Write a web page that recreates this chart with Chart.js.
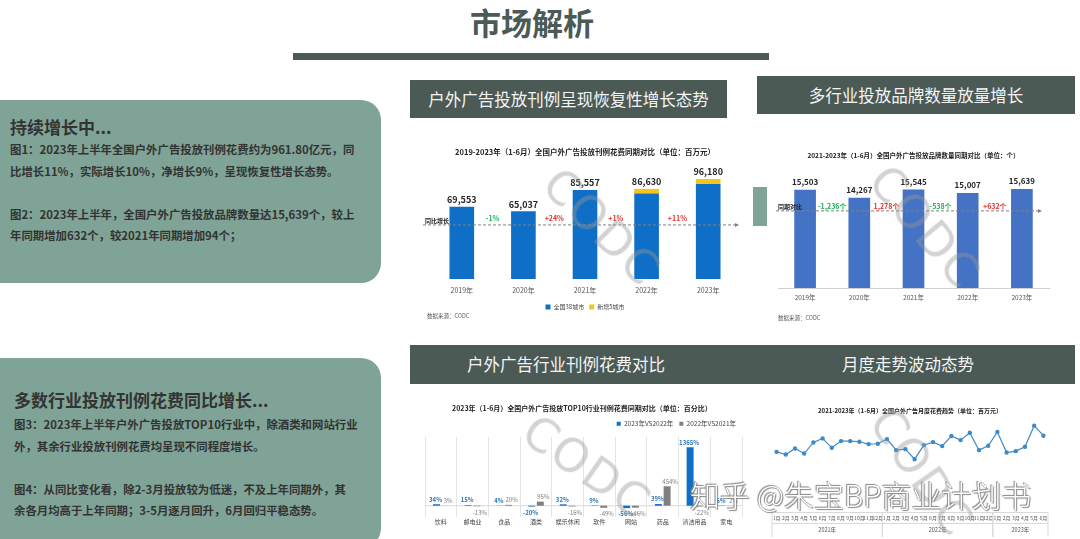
<!DOCTYPE html>
<html>
<head>
<meta charset="utf-8">
<script src="https://cdn.jsdelivr.net/npm/chart.js@4.4.0/dist/chart.umd.min.js"></script>
<style>
  body { margin: 0; width: 1080px; height: 539px; background: #fff; position: relative; overflow: hidden;
         font-family: "Noto Sans CJK SC", "Noto Sans", sans-serif; }
  .abs { position: absolute; }
  .panel { background: #7fa396; border-radius: 6px 20px 20px 6px; }
  .ptitle { position: absolute; font-size: 17px; line-height: 20px; font-weight: bold; color: #333; white-space: nowrap; }
  .pbody { position: absolute; font-size: 11.4px; line-height: 21.5px; font-weight: bold; color: #333; white-space: nowrap; }
  .head { background: #4b5a54; color: #f4f4f4; font-size: 16.5px; text-align: center; white-space: nowrap; }
  .box { position: absolute; }
  .src { position: absolute; font-size: 5.5px; color: #555; white-space: nowrap; }
  .ctitle { position: absolute; font-size: 7px; font-weight: bold; color: #222; white-space: nowrap; }
  .wm { position: absolute; font-family: "DejaVu Sans", sans-serif; font-size: 46px; color: rgba(150,150,150,0.42);
        letter-spacing: 2px; white-space: nowrap; transform-origin: center; }
  .zh { position: absolute; font-size: 30px; font-weight: 300; color: #fff; white-space: nowrap;
        text-shadow: 0 0 1px #666, 1px 1px 1px #888, -1px -1px 1px #888; }
</style>
</head>
<body>

<div class="abs" style="left:432px;top:2px;width:200px;text-align:center;font-size:31px;line-height:40px;font-weight:bold;color:#4b5a54;">市场解析</div>
<div class="abs" style="left:293px;top:53px;width:476px;height:7px;background:#4b5a54;"></div>

<div class="abs panel" style="left:-6px;top:100px;width:387px;height:183px;"></div>
<div class="ptitle" style="left:10px;top:117px;">持续增长中...</div>
<div class="pbody" style="left:10px;top:139px;">
图1：2023年上半年全国户外广告投放刊例花费约为961.80亿元，同<br>
比增长11%，实际增长10%，净增长9%，呈现恢复性增长态势。<br>
<br>
图2：2023年上半年，全国户外广告投放品牌数量达15,639个，较上<br>
年同期增加632个，较2021年同期增加94个；</div>

<div class="abs panel" style="left:-6px;top:358px;width:387px;height:190px;"></div>
<div class="ptitle" style="left:14px;top:390px;">多数行业投放刊例花费同比增长...</div>
<div class="pbody" style="left:14px;top:414px;">
图3：2023年上半年户外广告投放TOP10行业中，除酒类和网站行业<br>
外，其余行业投放刊例花费均呈现不同程度增长。<br>
<br>
图4：从同比变化看，除2-3月投放较为低迷，不及上年同期外，其<br>
余各月均高于上年同期；3-5月逐月回升，6月回归平稳态势。</div>

<div class="abs head" style="left:410px;top:80px;width:317px;height:38px;line-height:38px;">户外广告投放刊例呈现恢复性增长态势</div>
<div class="abs head" style="left:757px;top:76px;width:318px;height:38px;line-height:38px;">多行业投放品牌数量放量增长</div>
<div class="abs" style="left:753px;top:187px;width:14px;height:39px;background:#7fa396;"></div>
<div class="abs head" style="left:410px;top:345px;width:665px;height:39px;"></div>
<div class="abs" style="left:436px;top:345px;width:260px;line-height:39px;color:#f4f4f4;font-size:16.5px;text-align:center;white-space:nowrap;">户外广告行业刊例花费对比</div>
<div class="abs" style="left:808px;top:345px;width:200px;line-height:39px;color:#f4f4f4;font-size:16.5px;text-align:center;white-space:nowrap;">月度走势波动态势</div>

<div class="box" style="left:410px;top:140px;width:330px;height:180px;"><canvas id="spendChart"></canvas></div>
<div class="box" style="left:760px;top:140px;width:315px;height:180px;"><canvas id="brandChart"></canvas></div>
<div class="box" style="left:410px;top:398px;width:340px;height:141px;"><canvas id="industryChart"></canvas></div>
<div class="box" style="left:760px;top:400px;width:315px;height:139px;"><canvas id="monthChart"></canvas></div>

<div class="ctitle" style="left:452px;top:403px;">2023年（1-6月）全国户外广告投放TOP10行业刊例花费同期对比（单位：百分比）</div>
<div class="src" style="left:427px;top:312px;">数据来源：CODC</div>
<div class="src" style="left:778px;top:314px;">数据来源：CODC</div>

<div class="wm" style="left:530px;top:200px;transform:rotate(45deg);">CODC</div>
<div class="wm" style="left:853px;top:200px;transform:rotate(50deg);">CODC</div>
<div class="wm" style="left:515px;top:440px;transform:rotate(35deg);">CODC</div>
<div class="wm" style="left:850px;top:445px;transform:rotate(55deg);">CODC</div>
<div class="zh" style="left:690px;top:472px;">知乎 @朱宝BP商业计划书</div>

<script>
const barYears = ['2019年', '2020年', '2021年', '2022年', '2023年'];
const spend38 = [69553, 65037, 85557, 82130, 91380];
const spendNew5 = [0, 0, 0, 4500, 4800];
const spendGrowth = ['-1%', '+24%', '+1%', '+11%'];

const brandCount = [15503, 14267, 15545, 15007, 15639];
const brandDiff = ['-1,236个', '1,278个', '-538个', '+632个'];

const industries = ['饮料', '邮电业', '食品', '酒类', '娱乐休闲', '软件', '网站', '药品', '清洁用品', '家电'];
const yoy2023 = [34, 15, 4, -20, 32, 9, -56, 39, 1365, 6];
const yoy2022 = [3, -13, 20, 95, -16, -49, -46, 454, -22, 2];

const months = ['1月','2月','3月','4月','5月','6月','7月','8月','9月','10月','11月','12月',
                '1月','2月','3月','4月','5月','6月','7月','8月','9月','10月','11月','12月',
                '1月','2月','3月','4月','5月','6月'];
const monthYears = ['2021年', '2022年', '2023年'];
const monthSpend = [13400, 12780, 14190, 13010, 15610, 16560, 14350, 15930, 15930, 15770, 15220, 15300,
                    16400, 13800, 14040, 11680, 14980, 15690, 14750, 17110, 16160, 17890, 13800, 14820,
                    18050, 13250, 13570, 14590, 19550, 17190];

const FONT = '"Noto Sans CJK SC", "Noto Sans", sans-serif';
Chart.defaults.font.family = FONT;
Chart.defaults.animation = false;

// dashed comparison line with change notes between bars
function refLine(value, label, notes, opt) {
  return {
    id: 'refLine',
    afterDatasetsDraw(chart) {
      const { ctx, chartArea, scales: { x, y } } = chart;
      const py = y.getPixelForValue(value);
      const x0 = chartArea.left + opt.left, x1 = chartArea.right + opt.right;
      ctx.save();
      ctx.strokeStyle = '#808080';
      ctx.lineWidth = 1;
      ctx.setLineDash([3, 2]);
      ctx.beginPath();
      ctx.moveTo(x0, py);
      ctx.lineTo(x1 - 3, py);
      ctx.stroke();
      ctx.setLineDash([]);
      ctx.fillStyle = '#808080';
      ctx.beginPath();
      ctx.moveTo(x1 + 1, py);
      ctx.lineTo(x1 - 3, py - 2);
      ctx.lineTo(x1 - 3, py + 2);
      ctx.fill();
      ctx.font = 'bold 6px ' + FONT;
      ctx.fillStyle = '#222';
      ctx.textAlign = 'left';
      ctx.textBaseline = 'bottom';
      ctx.fillText(label, x0 + 2, py - 1);
      ctx.font = 'bold 7px ' + FONT;
      ctx.textAlign = 'center';
      ctx.textBaseline = 'middle';
      notes.forEach((t, i) => {
        const px = (x.getPixelForValue(i) + x.getPixelForValue(i + 1)) / 2;
        ctx.fillStyle = t.startsWith('-') ? '#1aae55' : '#e0312f';
        ctx.fillText(t, px, py - opt.noteUp);
      });
      ctx.restore();
    }
  };
}

function totalLabels(size, gap) {
  return {
    id: 'totals',
    afterDatasetsDraw(chart) {
      const { ctx } = chart;
      const sets = chart.data.datasets;
      const last = chart.getDatasetMeta(sets.length - 1);
      ctx.save();
      ctx.font = 'bold ' + size + 'px ' + FONT;
      ctx.fillStyle = '#262626';
      ctx.textAlign = 'center';
      ctx.textBaseline = 'middle';
      last.data.forEach((bar, i) => {
        const total = sets.reduce((s, d) => s + d.data[i], 0);
        ctx.fillText(total.toLocaleString('en-US'), bar.x, bar.y - gap);
      });
      ctx.restore();
    }
  };
}

// Chart 1: spend by year
new Chart(document.getElementById('spendChart'), {
  type: 'bar',
  data: {
    labels: barYears,
    datasets: [
      { label: '全国38城市', data: spend38, backgroundColor: '#0f6fc6', barPercentage: 0.8, categoryPercentage: 0.5 },
      { label: '新增5城市', data: spendNew5, backgroundColor: '#f5c518', barPercentage: 0.8, categoryPercentage: 0.5 }
    ]
  },
  options: {
    responsive: true,
    maintainAspectRatio: false,
    layout: { padding: { left: 21, right: 1, top: 6, bottom: 0 } },
    plugins: {
      title: {
        display: true,
        text: '2019-2023年（1-6月）全国户外广告投放刊例花费同期对比（单位：百万元）',
        font: { size: 7.5, weight: 'bold' },
        color: '#222',
        padding: { top: 2, bottom: 10 }
      },
      legend: {
        position: 'bottom',
        labels: { boxWidth: 5, boxHeight: 5, font: { size: 6 }, color: '#444', padding: 5 }
      },
      tooltip: { enabled: false }
    },
    scales: {
      x: {
        stacked: true,
        grid: { display: false, drawTicks: false },
        border: { display: false },
        ticks: { font: { size: 7 }, color: '#555', padding: 7 },
        afterFit: s => { s.height = 20; }
      },
      y: { stacked: true, display: false, min: 0, max: 107700 }
    }
  },
  plugins: [totalLabels(9, 7), refLine(52000, '同比增长', spendGrowth, { left: -8, right: -1, noteUp: 7 })]
});

// Chart 2: brand count by year
new Chart(document.getElementById('brandChart'), {
  type: 'bar',
  data: {
    labels: barYears,
    datasets: [
      { label: '品牌数量', data: brandCount, backgroundColor: '#4472c4', barPercentage: 0.8, categoryPercentage: 0.5 }
    ]
  },
  options: {
    responsive: true,
    maintainAspectRatio: false,
    layout: { padding: { left: 18, right: 26, top: 10, bottom: 12 } },
    plugins: {
      title: {
        display: true,
        text: '2021-2023年（1-6月）全国户外广告投放品牌数量同期对比（单位：个）',
        font: { size: 6.5, weight: 'bold' },
        color: '#222',
        padding: { top: 2, bottom: 20 }
      },
      legend: { display: false },
      tooltip: { enabled: false }
    },
    scales: {
      x: {
        grid: { display: false, drawTicks: false },
        border: { display: true, color: '#d0d0d0' },
        ticks: { font: { size: 6.5 }, color: '#555', padding: 6 },
        afterFit: s => { s.height = 20; }
      },
      y: { display: false, min: 0, max: 17090 }
    }
  },
  plugins: [totalLabels(8, 8), refLine(12180, '同期对比', brandDiff, { left: -2, right: -8, noteUp: 5 })]
});

// Chart 3: industries year-on-year
new Chart(document.getElementById('industryChart'), {
  type: 'bar',
  data: {
    labels: industries,
    datasets: [
      { label: '2023年VS2022年', data: yoy2023, backgroundColor: '#0f6fc6', barPercentage: 0.8, categoryPercentage: 0.55 },
      { label: '2022年VS2021年', data: yoy2022, backgroundColor: '#7f7f7f', barPercentage: 0.8, categoryPercentage: 0.55 }
    ]
  },
  options: {
    responsive: true,
    maintainAspectRatio: false,
    layout: { padding: { left: 15, right: 8, top: 16.4, bottom: 6 } },
    plugins: {
      legend: {
        position: 'top',
        align: 'end',
        labels: { boxWidth: 4, boxHeight: 4, font: { size: 6.5 }, color: '#444', padding: 6 }
      },
      tooltip: { enabled: false }
    },
    scales: {
      x: {
        grid: { display: true, drawTicks: false, color: '#e4e4e4' },
        border: { display: false },
        ticks: { font: { size: 6 }, color: '#444', padding: 1 },
        afterFit: s => { s.height = 16; }
      },
      y: { display: false, min: -264, max: 1608 }
    }
  },
  plugins: [{
    id: 'pctLabels',
    beforeDatasetsDraw(chart) {
      const { ctx, chartArea, scales: { y } } = chart;
      const py = y.getPixelForValue(0);
      ctx.save();
      ctx.strokeStyle = '#d9d9d9';
      ctx.lineWidth = 1;
      ctx.beginPath();
      ctx.moveTo(chartArea.left, py);
      ctx.lineTo(chartArea.right, py);
      ctx.stroke();
      ctx.restore();
    },
    afterDatasetsDraw(chart) {
      const { ctx } = chart;
      ctx.save();
      ctx.textAlign = 'center';
      ctx.textBaseline = 'middle';
      chart.data.datasets.forEach((ds, di) => {
        const meta = chart.getDatasetMeta(di);
        ctx.font = (di === 0 ? 'bold ' : '') + '6px ' + FONT;
        ctx.fillStyle = di === 0 ? '#2e75b6' : '#7f7f7f';
        meta.data.forEach((bar, i) => {
          const v = ds.data[i];
          const ty = v >= 0 ? bar.y - 5 : bar.y + 6;
          ctx.fillText(v + '%', bar.x + (di === 0 ? -1 : 3), ty);
        });
      });
      ctx.restore();
    }
  }]
});

// Chart 4: monthly spend trend
new Chart(document.getElementById('monthChart'), {
  type: 'line',
  data: {
    labels: months,
    datasets: [{
      label: '月度花费',
      data: monthSpend,
      borderColor: '#3f8ac6',
      backgroundColor: '#3f8ac6',
      borderWidth: 1.2,
      pointRadius: 1.6,
      pointBackgroundColor: '#3f8ac6',
      tension: 0
    }]
  },
  options: {
    responsive: true,
    maintainAspectRatio: false,
    layout: { padding: { left: 12, right: 27, top: 5, bottom: 0 } },
    plugins: {
      title: {
        display: true,
        text: '2021-2023年（1-6月）全国户外广告月度花费趋势（单位：百万元）',
        font: { size: 6, weight: 'bold' },
        color: '#222',
        padding: { top: 2, bottom: 1 }
      },
      legend: { display: false },
      tooltip: { enabled: false }
    },
    scales: {
      x: {
        offset: true,
        grid: { display: false, drawTicks: false },
        border: { display: false },
        ticks: { font: { size: 5 }, color: '#555', padding: 6, autoSkip: false, maxRotation: 0 },
        afterFit: s => { s.height = 30; }
      },
      y: { display: false, min: 0, max: 22000 }
    }
  },
  plugins: [{
    id: 'yearRow',
    afterDraw(chart) {
      const { ctx, chartArea, scales: { x } } = chart;
      const step = x.getPixelForValue(1) - x.getPixelForValue(0);
      const top = chartArea.bottom + 3.5, mid = chartArea.bottom + 14.5, bot = chartArea.bottom + 28;
      const left = x.getPixelForValue(0) - step / 2, right = x.getPixelForValue(months.length - 1) + step / 2;
      ctx.save();
      ctx.strokeStyle = '#d9d9d9';
      ctx.lineWidth = 1;
      ctx.beginPath();
      ctx.moveTo(left, top); ctx.lineTo(right, top);
      ctx.moveTo(left, mid); ctx.lineTo(right, mid);
      ctx.stroke();
      ctx.font = '5.5px ' + FONT;
      ctx.fillStyle = '#555';
      ctx.textAlign = 'center';
      ctx.textBaseline = 'middle';
      let start = 0;
      monthYears.forEach(yr => {
        let end = start;
        while (end + 1 < months.length && months[end + 1] !== '1月') end++;
        const a = x.getPixelForValue(start) - step / 2, b = x.getPixelForValue(end) + step / 2;
        ctx.beginPath();
        ctx.moveTo(a, top); ctx.lineTo(a, bot);
        ctx.moveTo(b, top); ctx.lineTo(b, bot);
        ctx.stroke();
        ctx.fillText(yr, (a + b) / 2, chartArea.bottom + 21);
        start = end + 1;
      });
      ctx.restore();
    }
  }]
});
</script>
</body>
</html>
